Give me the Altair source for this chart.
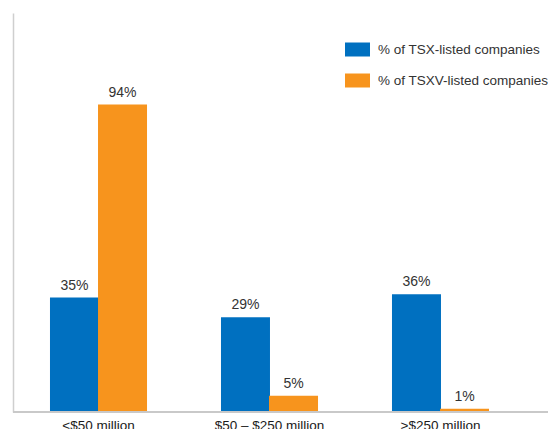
import altair as alt
import pandas as pd

categories = ["<$50 million", "$50 – $250 million", ">$250 million"]
series = ["% of TSX-listed companies", "% of TSXV-listed companies"]
tsx_values = [35, 29, 36]
tsxv_values = [94, 5, 1]
colors = ["#0070C0", "#F7941D"]

rows = []
for c, a, b in zip(categories, tsx_values, tsxv_values):
    rows.append({"cat": c, "series": series[0], "value": a, "label": f"{a}%"})
    rows.append({"cat": c, "series": series[1], "value": b, "label": f"{b}%"})
df = pd.DataFrame(rows)

FONT = "Liberation Sans"

x = alt.X("cat:N", sort=categories, title=None,
          scale=alt.Scale(paddingInner=0, paddingOuter=0),
          axis=alt.Axis(domain=False, ticks=False, labelAngle=0, labelFont=FONT,
                        labelFontSize=13.5, labelColor="#1a1a1a", labelPadding=6))
xo = alt.XOffset("series:N", sort=series, scale=alt.Scale(paddingInner=0, paddingOuter=0.78))
y = alt.Y("value:Q", title=None, scale=alt.Scale(domain=[0, 122], nice=False),
          axis=alt.Axis(domain=True, domainColor="#cfcfcf", domainWidth=1.5, ticks=False,
                        labels=False, grid=False))

bars = alt.Chart(df).mark_bar(size=49).encode(
    x=x, xOffset=xo, y=y,
    color=alt.Color("series:N", sort=series,
                    scale=alt.Scale(domain=series, range=colors),
                    legend=alt.Legend(title=None, orient="none", legendX=332, legendY=24,
                                      symbolType="M-1,-0.56L1,-0.56L1,0.56L-1,0.56Z",
                                      symbolSize=625, symbolStrokeWidth=0,
                                      labelFont=FONT, labelFontSize=13.5, labelColor="#333333",
                                      labelLimit=400, labelOffset=8, rowPadding=11, padding=0))
)

text = alt.Chart(df).mark_text(baseline="bottom", dy=-5, font=FONT, fontSize=14,
                               color="#333333").encode(
    x=x, xOffset=xo, y=y, text="label:N")

base = alt.Chart(df).mark_rule(color="#c8c8c8", strokeWidth=1.5).encode(
    x=alt.value(0), x2=alt.value(535), y=alt.value(399))

chart = alt.layer(bars, text, base).properties(
    width=513, height=399,
    autosize=alt.AutoSizeParams(type="none"),
    padding={"left": 13, "top": 13, "right": 22, "bottom": 17},
).configure_view(stroke=None)

chart.save("out.html", embed_options={"renderer": "svg", "actions": False})
